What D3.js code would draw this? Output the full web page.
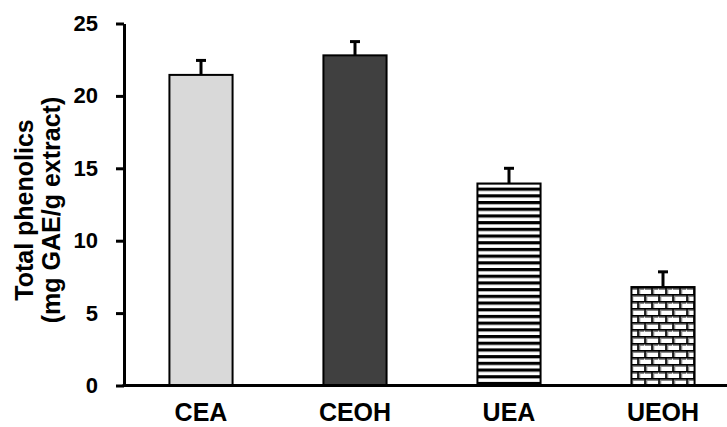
<!DOCTYPE html>
<html><head><meta charset="utf-8">
<script src="https://cdn.jsdelivr.net/npm/d3@7"></script>
<style>body{margin:0;background:#fff;} svg{display:block;}</style>
</head><body>
<svg id="c" width="727" height="427"></svg>
<script>
const categories = ["CEA", "CEOH", "UEA", "UEOH"];
const values = [21.45, 22.8, 13.95, 6.8];
const errors = [1.0, 0.95, 1.05, 1.05];
const yTicks = [0, 5, 10, 15, 20, 25];
const yLabelLines = ["Total phenolics", "(mg GAE/g extract)"];

const svg = d3.select("#c");
const font = "'Liberation Sans', Arial, sans-serif";
const defs = svg.append("defs");

// horizontal stripes
const ps = defs.append("pattern").attr("id","stripes").attr("patternUnits","userSpaceOnUse")
  .attr("width",10).attr("height",6.7);
ps.append("rect").attr("width",10).attr("height",6.7).attr("fill","#fff");
ps.append("rect").attr("y",0).attr("width",10).attr("height",3.2).attr("fill","#000");

// brick
const pb = defs.append("pattern").attr("id","brick").attr("patternUnits","userSpaceOnUse")
  .attr("width",14).attr("height",14);
pb.append("rect").attr("width",14).attr("height",14).attr("fill","#fff");
const bp = "M0,0.75H14M0,7.75H14M1,0V7M8,7V14";
pb.append("path").attr("d",bp).attr("stroke","#888").attr("stroke-width",3).attr("fill","none").attr("transform","translate(0.8,0.8)");
pb.append("path").attr("d",bp).attr("stroke","#000").attr("stroke-width",1.5).attr("fill","none");

const fills = ["#d9d9d9", "#404040", "url(#stripes)", "url(#brick)"];

const x = d3.scaleBand().domain(categories).range([124, 740]).paddingInner(0.59).paddingOuter(0.295);
const y = d3.scaleLinear().domain([0, 25]).range([385.5, 23.5]);

// bars
svg.selectAll("rect.bar").data(categories).enter().append("rect")
  .attr("class","bar")
  .attr("x", d => x(d))
  .attr("width", x.bandwidth())
  .attr("y", (d,i) => y(values[i]))
  .attr("height", (d,i) => y(0) - y(values[i]))
  .attr("fill", (d,i) => fills[i])
  .attr("stroke", "#000").attr("stroke-width", 2);

// error bars
const eb = svg.append("g");
categories.forEach((d,i) => {
  const cx = x(d) + x.bandwidth()/2;
  eb.append("line").attr("x1",cx).attr("x2",cx).attr("y1",y(values[i])).attr("y2",y(values[i]+errors[i]))
    .attr("stroke","#000").attr("stroke-width",3);
  eb.append("line").attr("x1",cx-5).attr("x2",cx+5).attr("y1",y(values[i]+errors[i])).attr("y2",y(values[i]+errors[i]))
    .attr("stroke","#000").attr("stroke-width",3);
});

// y axis
const ya = svg.append("g").attr("transform","translate(124,0)")
  .call(d3.axisLeft(y).tickValues(yTicks).tickSize(8).tickPadding(18).tickSizeOuter(0));
ya.select(".domain").attr("stroke","#000").attr("stroke-width",3);
ya.selectAll(".tick line").attr("stroke","#000").attr("stroke-width",3);
ya.selectAll(".tick text").attr("font-family",font).attr("font-weight","bold").attr("font-size",22).attr("fill","#000");

// x axis
const xa = svg.append("g").attr("transform","translate(0,385.5)")
  .call(d3.axisBottom(x).tickSize(0).tickPadding(17.5));
xa.select(".domain").remove();
xa.append("line").attr("x1",122.5).attr("x2",727).attr("stroke","#000").attr("stroke-width",3);
xa.selectAll(".tick text").attr("font-family",font).attr("font-weight","bold").attr("font-size",25).attr("fill","#000");

// y label
const yl = svg.append("text").attr("transform","translate(0,210) rotate(-90)")
  .attr("text-anchor","middle").attr("font-family",font).attr("font-weight","bold").attr("font-size",25);
yLabelLines.forEach((t,i) => yl.append("tspan").attr("x",0).attr("y", 33 + i*27).text(t));
</script>
</body></html>
